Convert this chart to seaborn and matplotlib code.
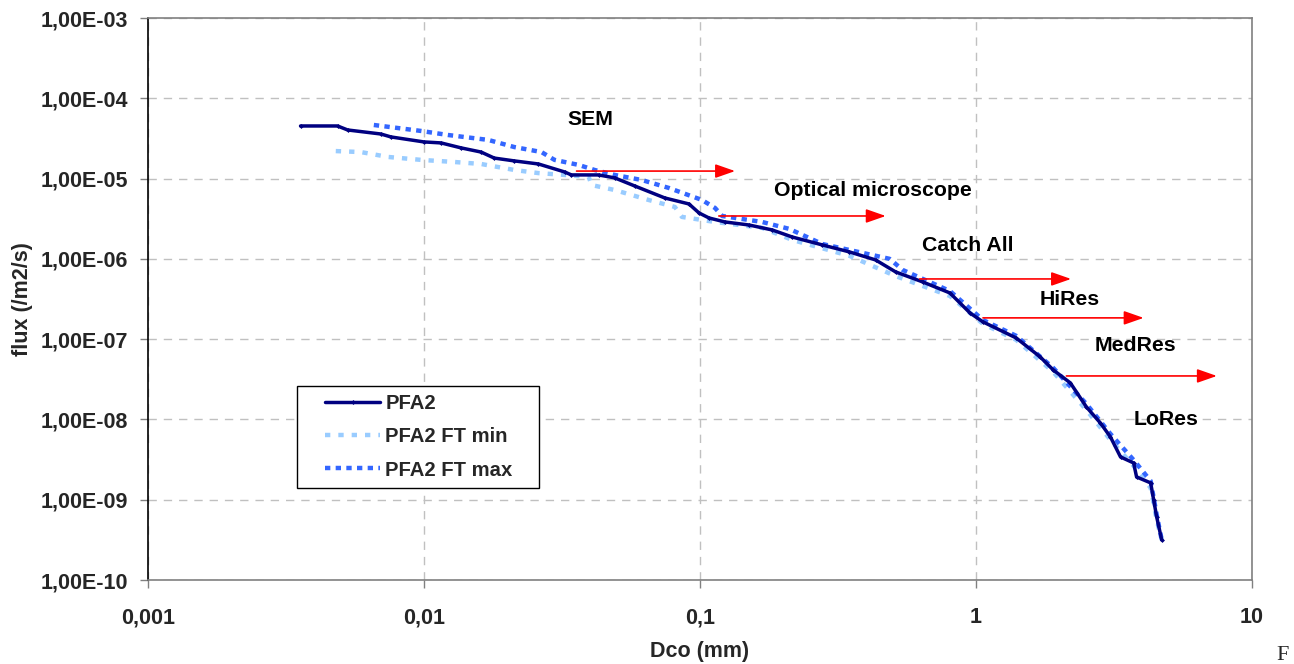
import numpy as np
import pandas as pd
import matplotlib
matplotlib.use("Agg")
import matplotlib.pyplot as plt
from matplotlib.legend_handler import HandlerLine2D
import seaborn as sns

# ---- data ----
pfa2_x = [0.00357, 0.00486, 0.00529, 0.00698, 0.00759, 0.0100, 0.01153, 0.01363, 0.0161, 0.01797,
          0.02124, 0.02598, 0.0323, 0.0342, 0.0429, 0.0491, 0.058, 0.0746, 0.0912, 0.0992,
          0.1078, 0.1233, 0.1507, 0.1827, 0.216, 0.2777, 0.348, 0.4326, 0.5117, 0.641,
          0.8044, 0.951, 1.06, 1.398, 1.709, 1.905, 2.197, 2.512, 2.825, 3.07,
          3.339, 3.724, 3.818, 4.294, 4.403, 4.515, 4.708]
pfa2_y = [4.52e-5, 4.52e-5, 4.03e-5, 3.59e-5, 3.30e-5, 2.86e-5, 2.78e-5, 2.41e-5, 2.14e-5, 1.80e-5,
          1.66e-5, 1.52e-5, 1.21e-5, 1.11e-5, 1.11e-5, 1.02e-5, 8.09e-6, 5.73e-6, 4.83e-6, 3.73e-6,
          3.23e-6, 2.88e-6, 2.64e-6, 2.29e-6, 1.87e-6, 1.49e-6, 1.22e-6, 9.7e-7, 6.87e-7, 5.16e-7,
          3.76e-7, 2.12e-7, 1.64e-7, 1.035e-7, 6.0e-8, 4.13e-8, 2.85e-8, 1.43e-8, 9.0e-9, 6.05e-9,
          3.41e-9, 2.87e-9, 1.92e-9, 1.62e-9, 9.94e-10, 6.1e-10, 3.16e-10]

ftmin_x = [0.00479, 0.0059, 0.0074, 0.00975, 0.01285, 0.0161, 0.02124, 0.02598, 0.0323, 0.0395,
           0.0405, 0.0491, 0.0652, 0.0811, 0.086, 0.1134, 0.168, 0.216, 0.348, 0.5117,
           0.8044, 1.06, 1.398, 1.905, 2.512, 3.07, 3.724, 4.294, 4.515, 4.708]
ftmin_y = [2.2e-5, 2.14e-5, 1.86e-5, 1.71e-5, 1.61e-5, 1.52e-5, 1.28e-5, 1.17e-5, 1.11e-5, 1.05e-5,
           8.3e-6, 7.2e-6, 5.41e-6, 4.43e-6, 3.33e-6, 2.88e-6, 2.43e-6, 1.72e-6, 1.09e-6, 6.1e-7,
           3.45e-7, 1.55e-7, 9.8e-8, 3.9e-8, 1.31e-8, 5.56e-9, 2.64e-9, 1.4e-9, 5.6e-10, 3.16e-10]

ftmax_x = [0.00658, 0.00975, 0.01222, 0.01709, 0.02124, 0.02664, 0.0297, 0.0363, 0.0415, 0.0491,
           0.0615, 0.0771, 0.1017, 0.1134, 0.1203, 0.168, 0.2107, 0.2777, 0.348, 0.4866,
           0.5426, 0.8044, 1.06, 1.398, 1.905, 2.512, 3.07, 3.724, 4.294, 4.515, 4.708]
ftmax_y = [4.65e-5, 3.92e-5, 3.49e-5, 3.03e-5, 2.47e-5, 2.14e-5, 1.71e-5, 1.48e-5, 1.28e-5, 1.11e-5,
           9.6e-6, 7.64e-6, 5.41e-6, 4.3e-6, 3.42e-6, 2.88e-6, 2.36e-6, 1.53e-6, 1.29e-6, 1.0e-6,
           7.27e-7, 3.98e-7, 1.73e-7, 1.1e-7, 4.38e-8, 1.56e-8, 6.6e-9, 3.13e-9, 1.71e-9, 6.5e-10, 3.16e-10]

# instrument ranges (arrows) and labels
ranges_name = ["SEM", "Optical microscope", "Catch All", "HiRes", "MedRes", "LoRes"]
arrow_x0 = [0.0357, 0.117, 0.625, 1.06, 2.126]
arrow_x1 = [0.134, 0.471, 2.21, 4.05, 7.46]
arrow_y = [1.24e-5, 3.42e-6, 5.62e-7, 1.84e-7, 3.48e-8]
label_x = [0.0401, 0.4223, 0.935, 2.178, 3.79, 4.87]
label_y = [5.52e-5, 7.01e-6, 1.45e-6, 3.08e-7, 8.22e-8, 1.01e-8]

x_ticks = [0.001, 0.01, 0.1, 1, 10]
x_ticklabels = ["0,001", "0,01", "0,1", "1", "10"]
y_ticks = [1e-10, 1e-9, 1e-8, 1e-7, 1e-6, 1e-5, 1e-4, 1e-3]
y_ticklabels = ["1,00E-10", "1,00E-09", "1,00E-08", "1,00E-07", "1,00E-06", "1,00E-05", "1,00E-04", "1,00E-03"]

df = pd.concat([
    pd.DataFrame({"Dco": pfa2_x, "flux": pfa2_y, "series": "PFA2"}),
    pd.DataFrame({"Dco": ftmin_x, "flux": ftmin_y, "series": "PFA2 FT min"}),
    pd.DataFrame({"Dco": ftmax_x, "flux": ftmax_y, "series": "PFA2 FT max"}),
], ignore_index=True)

sns.set_theme(style="white")
plt.rcParams['font.family'] = ['Liberation Sans', 'DejaVu Sans']

W, H = 1294, 664
L, R, T, B = 148, 1252, 18, 580
fig = plt.figure(figsize=(W / 100, H / 100), dpi=100)
ax = fig.add_axes([L / W, 1 - B / H, (R - L) / W, (B - T) / H])

palette = {"PFA2": "#000080", "PFA2 FT min": "#99CCFF", "PFA2 FT max": "#3366FF"}
order = ["PFA2 FT min", "PFA2 FT max", "PFA2"]
styles = {"PFA2": dict(ls="-", lw=2.5, marker="D", ms=2.5),
          "PFA2 FT min": dict(ls=(0, (1.2, 1.8)), lw=3.2, marker=None, ms=0),
          "PFA2 FT max": dict(ls=(0, (1.2, 1.2)), lw=3.2, marker=None, ms=0)}
handles = {}
for name in order:
    sub = df[df.series == name]
    st = styles[name]
    sns.lineplot(data=sub, x="Dco", y="flux", ax=ax, color=palette[name], estimator=None, sort=False,
                 linewidth=st["lw"], linestyle=st["ls"], marker=st["marker"], markersize=st["ms"],
                 markeredgewidth=0, label=name, legend=False)
    handles[name] = ax.lines[-1]

ax.set_xscale("log")
ax.set_yscale("log")
ax.set_xlim(0.001, 10)
ax.set_ylim(1e-10, 1e-3)
ax.set_xticks(x_ticks)
ax.set_xticklabels(x_ticklabels)
ax.set_yticks(y_ticks)
ax.set_yticklabels(y_ticklabels)
ax.minorticks_off()
ax.tick_params(axis="both", labelsize=15.5, length=5.5, width=1, color="#808080", direction="out",
               bottom=True, left=True)
for lab in ax.get_xticklabels() + ax.get_yticklabels():
    lab.set_fontweight("bold")
ax.tick_params(axis="x", pad=14)
ax.tick_params(axis="y", pad=9)

ax.grid(True, which="major", color="#C0C0C0", linestyle=(0, (6, 5)), linewidth=1)
for s in ["top", "right", "bottom"]:
    ax.spines[s].set_color("#808080")
    ax.spines[s].set_linewidth(1.2)
ax.spines["left"].set_color("black")
ax.spines["left"].set_linewidth(1.2)

# arrows
for x0, x1, y in zip(arrow_x0, arrow_x1, arrow_y):
    ax.annotate("", xy=(x1, y), xytext=(x0, y),
                arrowprops=dict(arrowstyle="-|>,head_length=1.0,head_width=0.35", color="#FF0000", lw=1.2,
                                shrinkA=0, shrinkB=0))
for name, x, y in zip(ranges_name, label_x, label_y):
    ax.text(x, y, name, ha="center", va="center", fontsize=15.3, fontweight="bold", color="black")

ax.set_xlabel("Dco (mm)", fontsize=15.5, fontweight="bold")
ax.set_ylabel("flux (/m2/s)", fontsize=15.5, fontweight="bold")
ax.xaxis.set_label_coords(0.5, (B - 641) / (B - T))
ax.yaxis.set_label_coords((33 - L) / (R - L), 0.5)


class ShiftedLine(HandlerLine2D):
    def get_xdata(self, legend, xdescent, ydescent, width, height, fontsize):
        shift = 0.27 * width
        xdata = np.array([-xdescent + shift, -xdescent + width])
        xmark = np.array([-xdescent + shift + (width - shift) / 2])
        return xdata, xmark


leg_x0 = (297 - L) / (R - L)
leg_y1 = (B - 386) / (B - T)
leg_w = (539 - 297) / (R - L)
leg_h = (484 - 386) / (B - T)
leg = ax.legend([handles["PFA2"], handles["PFA2 FT min"], handles["PFA2 FT max"]],
                ["PFA2", "PFA2 FT min", "PFA2 FT max"],
                loc="upper left", bbox_to_anchor=(leg_x0, leg_y1 - leg_h, leg_w, leg_h), mode="expand",
                frameon=True, fancybox=False, edgecolor="black", framealpha=1,
                prop={"size": 14.6, "weight": "bold"}, handlelength=3.7, handletextpad=0.25,
                borderpad=0.4, labelspacing=0.7, borderaxespad=0,
                handler_map={h: ShiftedLine() for h in handles.values()})
leg.get_frame().set_linewidth(1.0)

fig.text(1283 / W, 1 - 655 / H, "F", fontsize=16, family=["Liberation Serif", "DejaVu Serif"],
         ha="center", va="center")

fig.savefig("out.png", dpi=100)
